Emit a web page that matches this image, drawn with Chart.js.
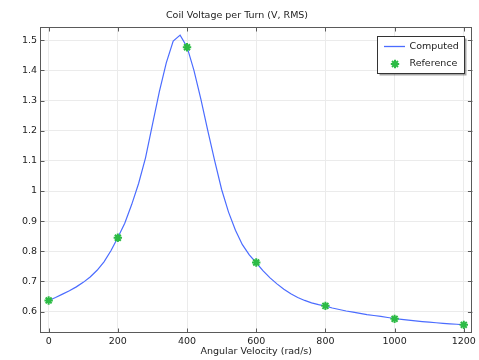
<!DOCTYPE html>
<html>
<head>
<meta charset="utf-8">
<script src="https://cdn.jsdelivr.net/npm/chart.js@4.4.1/dist/chart.umd.min.js"></script>
<style>
html,body{margin:0;padding:0;background:#fff;}
#wrap{width:479px;height:360px;}
</style>
</head>
<body>
<div id="wrap"><canvas id="c" width="479" height="360"></canvas></div>
<script>
const titleText = "Coil Voltage per Turn (V, RMS)";
const xTitle = "Angular Velocity (rad/s)";
const computedLabel = "Computed";
const referenceLabel = "Reference";

const computedX = [0,20,40,60,80,100,120,140,160,180,200,220,240,260,280,300,320,340,360,380,400,420,440,460,480,500,520,540,560,580,600,620,640,660,680,700,720,740,760,780,800,820,840,860,880,900,920,940,960,980,1000,1020,1040,1060,1080,1100,1120,1140,1160,1180,1200];
const computedY = [0.637,0.647,0.658,0.669,0.682,0.697,0.715,0.737,0.765,0.802,0.846,0.893,0.955,1.025,1.110,1.220,1.330,1.425,1.497,1.517,1.478,1.400,1.305,1.200,1.100,1.005,0.930,0.870,0.822,0.788,0.762,0.735,0.712,0.692,0.674,0.659,0.647,0.637,0.629,0.623,0.618,0.612,0.607,0.602,0.598,0.594,0.590,0.587,0.584,0.5805,0.577,0.5745,0.572,0.5695,0.567,0.565,0.563,0.561,0.5595,0.558,0.556];

const referenceX = [0,200,400,600,800,1000,1200];
const referenceY = [0.637,0.845,1.477,0.763,0.619,0.576,0.556];

const xTicks = [0,200,400,600,800,1000,1200];
const yTicks = [0.6,0.7,0.8,0.9,1.0,1.1,1.2,1.3,1.4,1.5];

const FONT = "'DejaVu Sans', sans-serif";
const FS = 9.5;
const LINE_COLOR = '#4b6cff';
const STAR_COLOR = '#2cbb45';

function drawStar(ctx, x, y, r, color, lw) {
  ctx.save();
  ctx.strokeStyle = color;
  ctx.lineWidth = lw;
  ctx.beginPath();
  for (let i = 0; i < 4; i++) {
    const a = i * Math.PI / 4;
    ctx.moveTo(x - r * Math.cos(a), y - r * Math.sin(a));
    ctx.lineTo(x + r * Math.cos(a), y + r * Math.sin(a));
  }
  ctx.stroke();
  ctx.restore();
}

const framePlugin = {
  id: 'frame',
  afterDraw(chart) {
    const ctx = chart.ctx;
    const a = chart.chartArea;
    const xs = chart.scales.x, ys = chart.scales.y;
    ctx.save();
    ctx.strokeStyle = '#5a5a5a';
    ctx.lineWidth = 1;
    ctx.strokeRect(Math.round(a.left) + 0.5, Math.round(a.top) + 0.5, Math.round(a.right - a.left) - 1, Math.round(a.bottom - a.top) - 1);
    ctx.beginPath();
    const tl = 4.5;
    xTicks.forEach(v => {
      const px = Math.round(xs.getPixelForValue(v)) + 0.5;
      ctx.moveTo(px, a.bottom); ctx.lineTo(px, a.bottom - tl);
      ctx.moveTo(px, a.top); ctx.lineTo(px, a.top + tl);
    });
    yTicks.forEach(v => {
      const py = Math.round(ys.getPixelForValue(v)) + 0.5;
      ctx.moveTo(a.left, py); ctx.lineTo(a.left + tl, py);
      ctx.moveTo(a.right, py); ctx.lineTo(a.right - tl, py);
    });
    ctx.stroke();

    // legend
    const bx = 377.5, by = 36.5, bw = 87, bh = 37;
    ctx.fillStyle = 'rgba(0,0,0,0.35)';
    ctx.fillRect(bx + 2, by + 2, bw, bh);
    ctx.fillStyle = '#fff';
    ctx.fillRect(bx, by, bw, bh);
    ctx.strokeStyle = '#333';
    ctx.lineWidth = 1;
    ctx.strokeRect(bx, by, bw, bh);
    const ds = chart.data.datasets;
    ctx.strokeStyle = LINE_COLOR;
    ctx.lineWidth = 1.3;
    ctx.beginPath();
    ctx.moveTo(384, 46.5); ctx.lineTo(405, 46.5);
    ctx.stroke();
    drawStar(ctx, 395, 64, 4.2, STAR_COLOR, 2);
    ctx.fillStyle = '#222';
    ctx.font = FS + 'px ' + FONT;
    ctx.textBaseline = 'middle';
    ctx.textAlign = 'left';
    ctx.fillText(ds[1].label, 409.5, 46.5);
    ctx.fillText(ds[0].label, 409.5, 64);
    ctx.restore();
  }
};

new Chart(document.getElementById('c'), {
  type: 'scatter',
  data: {
    datasets: [
      {
        label: referenceLabel,
        data: referenceX.map((x, i) => ({x, y: referenceY[i]})),
        showLine: false,
        pointStyle: 'star',
        pointRadius: 4.2,
        pointBorderWidth: 2,
        borderColor: STAR_COLOR,
        backgroundColor: STAR_COLOR,
        pointHoverRadius: 4.2,
        order: 0
      },
      {
        label: computedLabel,
        data: computedX.map((x, i) => ({x, y: computedY[i]})),
        showLine: true,
        pointRadius: 0,
        borderColor: LINE_COLOR,
        borderWidth: 1.2,
        tension: 0,
        fill: false,
        order: 1
      }
    ]
  },
  options: {
    responsive: false,
    animation: false,
    devicePixelRatio: 1,
    layout: { padding: { left: 0, right: 5, top: 0, bottom: 0 } },
    plugins: {
      legend: { display: false },
      tooltip: { enabled: false },
      title: {
        display: true,
        text: titleText,
        color: '#222',
        font: { family: FONT, size: FS, weight: 'normal' },
        padding: { top: 10, bottom: 5.6 }
      }
    },
    scales: {
      x: {
        type: 'linear',
        min: -25, max: 1225,
        afterFit(s) { s.height = 27; },
        afterBuildTicks(s) { s.ticks = xTicks.map(v => ({value: v})); },
        ticks: {
          includeBounds: false,
          color: '#222',
          padding: 3,
          maxRotation: 0,
          font: { family: FONT, size: FS },
          callback: v => String(v)
        },
        grid: { color: '#ebebeb', drawTicks: false },
        border: { display: false },
        title: {
          display: true,
          text: xTitle,
          color: '#222',
          font: { family: FONT, size: FS },
          padding: { top: 0, bottom: 3 }
        }
      },
      y: {
        type: 'linear',
        min: 0.529, max: 1.544,
        afterFit(s) { s.width = 40; },
        afterBuildTicks(s) { s.ticks = yTicks.map(v => ({value: v})); },
        ticks: {
          includeBounds: false,
          color: '#222',
          padding: 3,
          font: { family: FONT, size: FS },
          callback: v => String(Number(v.toFixed(1)))
        },
        grid: { color: '#ebebeb', drawTicks: false },
        border: { display: false }
      }
    }
  },
  plugins: [framePlugin]
});
</script>
</body>
</html>
